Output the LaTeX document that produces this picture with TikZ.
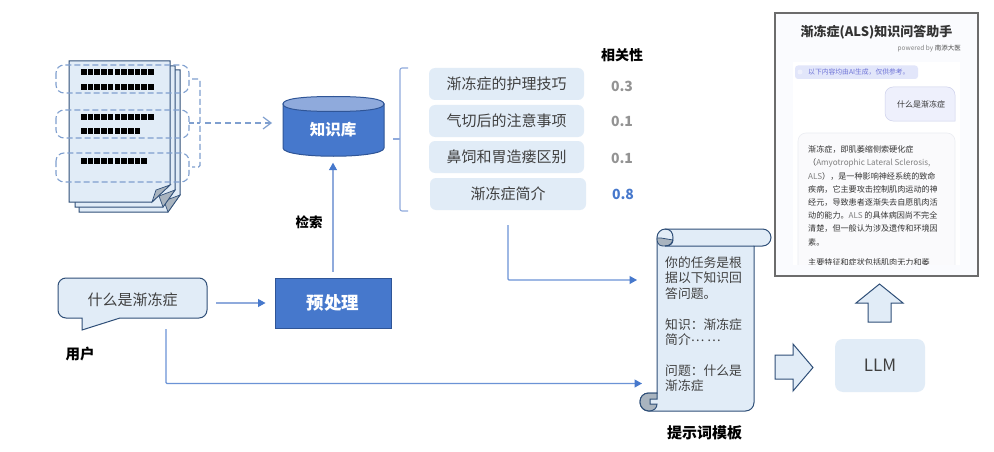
\documentclass[tikz,border=0pt]{standalone}
\usepackage{fontspec}
\setmainfont{Noto Sans CJK SC}
\usetikzlibrary{arrows.meta}
\definecolor{panel}{HTML}{E1ECF7}
\definecolor{ink}{HTML}{2F4F78}
\definecolor{dash}{HTML}{7F9FCF}
\definecolor{flow}{HTML}{8FAADC}
\definecolor{blue1}{HTML}{4678CC}
\definecolor{blue2}{HTML}{2F5597}
\definecolor{txt}{HTML}{404040}
\definecolor{curl}{HTML}{A9B4BF}
\definecolor{appbg}{HTML}{FAFBFE}
\definecolor{banner}{HTML}{E2E6FA}
\definecolor{bubblefill}{HTML}{EEF0FC}
\definecolor{bubbleline}{HTML}{CDD0EB}
\definecolor{ansline}{HTML}{EBEDF2}
\definecolor{ansfill}{HTML}{FAFAFC}
\definecolor{noticetxt}{HTML}{6E73D7}
\newcommand{\fs}[1]{\fontsize{#1}{#1}\selectfont}
\tikzset{
  x=1pt,y=-1pt,
  pagesheet/.style={draw=ink,line width=1pt,fill=panel},
  dashbox/.style={draw=dash,line width=1.1pt,dash pattern=on 6pt off 3pt,rounded corners=8pt},
  flowline/.style={draw=flow,line width=1.2pt},
  tiparrow/.style={-{Triangle[length=7.5pt,width=8pt,color=blue1]}},
  itembox/.style={fill=panel,rounded corners=6pt,text=txt,minimum height=32pt,inner sep=0pt,font=\fs{15}},
  score/.style={text=gray!85,font=\fs{14}\bfseries,inner sep=0pt},
  caption/.style={text=black,inner sep=0pt,font=\bfseries},
  blockarrow/.style={draw=ink,line width=1pt,fill=panel,line join=miter},
  chatline/.style={anchor=west,inner sep=0pt,text=black!80,font=\fs{8.1}}
}
\begin{document}
\begin{tikzpicture}
\useasboundingbox[fill=white] (0,0) rectangle (994,452);
% document stack
\foreach \a/\t/\b/\c/\d in {79/70/180/212/173,75/66/175/207/168}{
  \path[pagesheet] (\a,\t) -- (\b,\t) -- (\b,\c-17) -- (\d-5,\c) -- (\a,\c) -- cycle;
  \path[draw=ink,fill=curl,line width=.7pt] (\b,\c-17) -- (\b-16,\c-11) -- (\d-5,\c) -- cycle;
}
\path[pagesheet] (69,61) -- (170,61) -- (170,185) -- (152,202) -- (69,202) -- cycle;
\path[draw=ink,fill=curl,line width=.7pt] (170,185) -- (156,190) -- (152,202) -- cycle;
% text bars
\foreach \yy/\n in {72.3/11,87/11,117/11,131.3/9,160.7/10}{
  \foreach \k in {1,...,\n}{
    \fill[black] ({81+(\k-1)*6.7},\yy-3) rectangle ++(5.6,6);
  }
}
% dashed chunks
\foreach \yy/\yb in {65/93,110/138,153/182}{
  \draw[dashbox] (56,\yy) rectangle (189,\yb);
}
\coordinate (chunkout) at (189,123);
\coordinate (brk) at (200,123);
\draw[draw=dash,line width=1.1pt,dash pattern=on 6pt off 3pt,rounded corners=1.5pt] (192,79) -- (200,79) -- (200,167) -- (192,167);
\draw[draw=dash,line width=1.1pt,dash pattern=on 5pt off 3pt] (chunkout) -- (brk);
% knowledge base
\node[minimum width=101pt,minimum height=60pt,inner sep=0pt] (kb) at (333,127) {};
\path[draw=blue2,line width=1pt,fill=blue1] (283,104) -- (283,148) .. controls (283,159) and (384,159) .. (384,148) -- (384,104) -- cycle;
\path[draw=blue2,line width=1pt,fill=flow] (333.5,96.5) .. controls (300,96.5) and (283,99) .. (283,104) .. controls (283,109) and (300,111.5) .. (333.5,111.5) .. controls (367,111.5) and (384,109) .. (384,104) .. controls (384,99) and (367,96.5) .. (333.5,96.5) -- cycle;
\node[text=white,font=\fs{15.5}\bfseries,inner sep=0pt] (kblabel) at (333,130) {知识库};
\coordinate (dashend) at (272,123);
\coordinate (dashstart) at (205,123);
\draw[draw=dash,line width=1.2pt,dash pattern=on 6pt off 4pt,-{Straight Barb[length=8pt,width=12pt]}] (dashstart) -- (dashend);
% preprocess and user
\node[fill=blue1,draw=blue2,line width=1pt,minimum width=116pt,minimum height=50pt,inner sep=0pt,text=white,font=\fs{17.5}\bfseries] (pre) at (333,303) {预处理};
\draw[flowline,tiparrow,shorten <=6pt,shorten >=5.5pt] (pre.north) -- (kb.south);
\node[caption,font=\fs{13.5}\bfseries] (search) at (309,222) {检索};
\path[draw=ink,line width=1pt,fill=panel,rounded corners=8pt] (58,298) -- (58,318) [sharp corners] -- (82,318) -- (82,330) -- (120,318) [rounded corners=8pt] -- (207,318) -- (207,278) -- (58,278) -- cycle;
\node[text=txt,font=\fs{15},inner sep=0pt,minimum width=149pt,minimum height=40pt] (ask) at (132.5,300) {什么是渐冻症};
\node[caption,font=\fs{14.5}\bfseries] (user) at (80,354) {用户};
\draw[flowline,tiparrow,shorten <=9pt,shorten >=9pt] (ask.east |- pre.west) -- (pre.west);
% retrieved list
\draw[draw=flow,line width=1.1pt,rounded corners=2pt] (408,68) -- (400,68) -- (400,211) -- (408,211);
\coordinate (brt) at (400,139);
\coordinate (brl) at (393,139);
\draw[draw=flow,line width=1.1pt] (brl) -- (brt);
\node[itembox,minimum width=155pt] (l1) at (506.5,84) {渐冻症的护理技巧};
\node[itembox,minimum width=155pt] (l2) at (506.5,121) {气切后的注意事项};
\node[itembox,minimum width=155pt] (l3) at (506.5,157) {鼻饲和胃造瘘区别};
\node[itembox,minimum width=156pt] (l4) at (508,194) {渐冻症简介};
\node[score] (s1) at (622,86) {0.3};
\node[score] (s2) at (622,121) {0.1};
\node[score] (s3) at (622,158) {0.1};
\node[score,text=blue1] (s4) at (623,194) {0.8};
\node[caption,font=\fs{14}\bfseries] (rel) at (622,55) {相关性};
% scroll
\path[draw=ink,line width=1pt,fill=panel,rounded corners=8.5pt] (657,300) -- (657,229) -- (771,229) -- (771,246) [sharp corners] -- (754,246) [rounded corners=8.5pt] -- (754,411) -- (640,411) -- (640,393) [sharp corners] -- (657,393) -- cycle;
\path[draw=ink,line width=.8pt,fill=curl] (657,238) .. controls (657,246) and (661,246) .. (665,246) .. controls (671,246) and (673,243) .. (673,240) -- (661,238) -- cycle;
\path[draw=ink,line width=1pt] (665,229) .. controls (671,229) and (673,233) .. (673,238) .. controls (673,243) and (670,246) .. (665,246) -- (754,246);
\path[draw=ink,line width=1pt,fill=curl] (649,393) .. controls (643,393) and (640,397) .. (640,402) .. controls (640,407) and (644,411) .. (649,411) .. controls (654,411) and (657,408) .. (657,404) -- (650,404) -- (650,399) -- (657,399) -- (657,393) -- cycle;
\node[anchor=north west,inner sep=0pt,minimum width=97pt,minimum height=165pt] (scroll) at (657,246) {};
\node[anchor=north west,inner sep=0pt,align=left,text=txt,font=\fontsize{12.8}{15.4}\selectfont] (scrolltext) at (665,256.5) {你的任务是根\\据以下知识回\\答问题。\\[15.4pt]知识：渐冻症\\简介\raisebox{3pt}{… …}\\[15.4pt]问题：什么是\\渐冻症};
\node[caption,font=\fs{15}\bfseries] (tpl) at (704.5,433) {提示词模板};
% connectors to the scroll
\coordinate (t1) at (scroll.west |- 0,280);
\coordinate (t2) at (scroll.west |- 0,383.5);
\coordinate (u0) at (166,329);
\draw[flowline,draw=blue1!80!white,tiparrow,rounded corners=1pt,shorten <=15pt,shorten >=20pt] (l4.south) |- (t1);
\draw[flowline,draw=blue1!80!white,tiparrow,rounded corners=1pt,shorten >=15pt] (u0) |- (t2);
% LLM
\path[blockarrow] (775,355) -- (793,355) -- (793,344) -- (813,367.5) -- (793,391) -- (793,379) -- (775,379) -- cycle;
\node[fill=panel,rounded corners=8pt,minimum width=90pt,minimum height=53pt,inner sep=0pt,text=txt,font=\fs{17}] (llm) at (880,365.5) {LLM};
\path[blockarrow] (868,322) -- (868,303) -- (856,303) -- (879.5,284) -- (903,303) -- (891,303) -- (891,322) -- cycle;
% screenshot
\begin{scope}
\clip (775,13) rectangle (978,276);
\fill[appbg] (775,13) rectangle (978,276);
\fill[white] (793,62) rectangle (960,276);
\fill[banner,rounded corners=3pt] (795,65.5) rectangle (918,79);
\fill[bubblefill] (800,72) circle (2.5);
\path[draw=bubbleline,line width=.5pt,fill=bubblefill,rounded corners=8pt] (955,105) -- (955,87) -- (885,87) -- (885,121) [sharp corners] -- (955,121) -- cycle;
\path[draw=ansline,line width=.6pt,fill=ansfill,rounded corners=8pt] (798,290) -- (798,133) -- (955,133) -- (955,290) -- cycle;
\node[inner sep=0pt,text=black!80,font=\fs{13}\bfseries] (apptitle) at (876.5,32) {渐冻症(ALS)知识问答助手};
\node[anchor=east,inner sep=0pt,text=gray,font=\fs{6.5}] (powered) at (961,49) {powered by \textcolor{black!70}{南添大医}};
\node[anchor=west,inner sep=0pt,text=noticetxt,font=\fs{6.8}] (notice) at (808,72) {以下内容均由AI生成，仅供参考。};
\node[inner sep=0pt,text=black!80,font=\fs{8}] (asked) at (921,104) {什么是渐冻症};
\node[chatline] (a1) at (808,150) {渐冻症，即肌萎缩侧索硬化症};
\node[chatline] (a2) at (808,163.3) {（\textcolor{gray}{Amyotrophic Lateral Sclerosis,}};
\node[chatline] (a3) at (808,176) {\textcolor{gray}{ALS}），是一种影响神经系统的致命};
\node[chatline] (a4) at (808,189.3) {疾病，它主要攻击控制肌肉运动的神};
\node[chatline] (a5) at (808,202.3) {经元，导致患者逐渐失去自愿肌肉活};
\node[chatline] (a6) at (808,215.7) {动的能力。\textcolor{gray}{ALS} 的具体病因尚不完全};
\node[chatline] (a7) at (808,229) {清楚，但一般认为涉及遗传和环境因};
\node[chatline] (a8) at (808,242.3) {素。};
\node[chatline] (a9) at (808,262) {主要特征和症状包括肌肉无力和萎};
\fill[appbg] (775,264.5) rectangle (978,276);
\end{scope}
\draw[draw=gray!85!black,line width=1.1pt] (775,13) rectangle (978,276);
\end{tikzpicture}
\end{document}
